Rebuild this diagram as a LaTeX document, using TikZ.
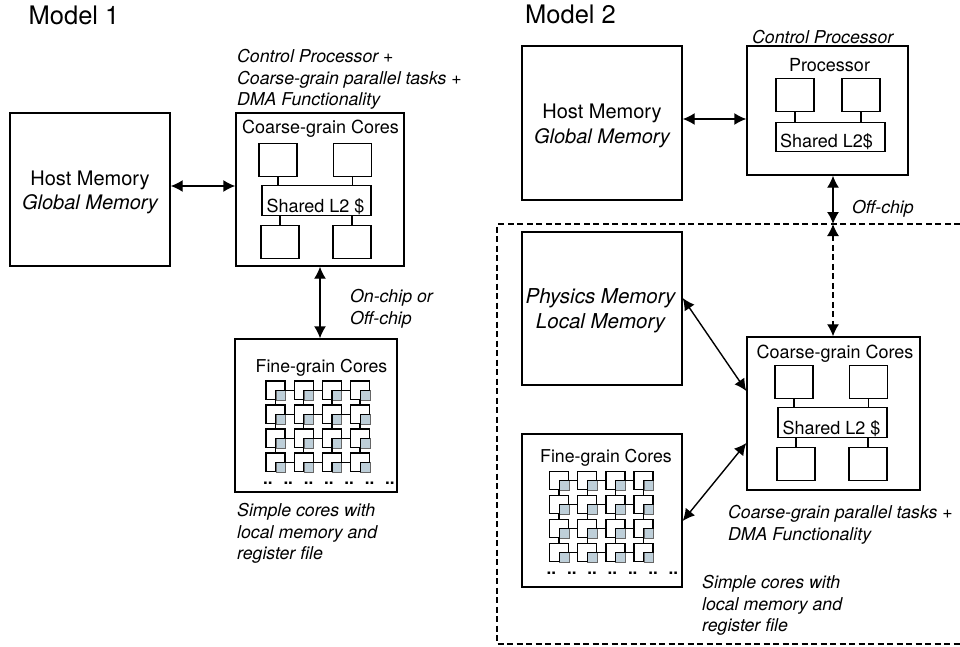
\documentclass[tikz,border=0pt]{standalone}
\usepackage{fontspec}
\setmainfont{TeX Gyre Heros}
\usetikzlibrary{arrows.meta}
\definecolor{memblue}{RGB}{190,207,217}
\tikzset{
  box/.style={draw=black,line width=1.4pt,fill=white,inner sep=0pt},
  corebox/.style={box,minimum width=38pt,minimum height=32.5pt},
  cachebox/.style={box,minimum width=109pt,minimum height=29.5pt},
  cell/.style={draw=black,line width=1.3pt,fill=white,inner sep=0pt,minimum width=19pt,minimum height=18.5pt},
  memcell/.style={draw=black!60,line width=.6pt,fill=memblue,inner sep=0pt,minimum width=9.5pt,minimum height=9.5pt,anchor=south east},
  label/.style={font=\fontsize{20}{24.5}\selectfont,align=center,inner sep=0pt},
  caption/.style={font=\fontsize{18}{20}\selectfont,inner sep=0pt,anchor=base},
  finecaption/.style={font=\fontsize{17.7}{20}\selectfont,inner sep=0pt,anchor=base},
  note/.style={font=\fontsize{17.7}{21.5}\selectfont\itshape,align=left,inner sep=0pt,anchor=north west},
  title/.style={font=\fontsize{25.5}{28}\selectfont,inner sep=0pt,anchor=base west},
  link/.style={line width=1.3pt},
  both/.style={line width=1.4pt,{Latex[length=12pt,width=12pt]}-{Latex[length=12pt,width=12pt]}},
  bound/.style={line width=1.3pt,dash pattern=on 6pt off 3.5pt},
}
\newcommand{\coarsecores}[3]{
\node[corebox] (#1a) at (#2+278,#3+160) {};
\node[corebox] (#1b) at (#2+352.5,#3+160) {};
\node[cachebox] (#1s) at (#2+316.5,#3+200.5) {};
\node[caption] (#1t) at (#2+315.5,#3+212) {Shared L2 \$};
\node[corebox] (#1c) at (#2+280,#3+242) {};
\node[corebox] (#1d) at (#2+352,#3+242) {};
\draw[link] (#1a) -- (#1a |- #1s.north);
\draw[link] (#1b) -- (#1b |- #1s.north);
\draw[link] (#1c) -- (#1c |- #1s.south);
\draw[link] (#1d) -- (#1d |- #1s.south);
}
\newcommand{\finegrid}[3]{
\foreach \r in {0,1,2,3}{
  \foreach \c in {0,1,2,3}{
    \node[cell] (#1-\r-\c) at (#2+28.2*\c,#3+24*\r) {};
    \node[memcell] (#1-m-\r-\c) at (#1-\r-\c.south east) {};
    \draw[line width=1.1pt] (#1-m-\r-\c.south west) -- (#1-m-\r-\c.north west) -- (#1-m-\r-\c.north east);
  }
}
\foreach \r in {0,1,2,3}{
  \foreach \c/\n in {0/1,1/2,2/3}{
    \draw[link] (#1-\r-\c.east) -- (#1-\r-\n.west);
  }
}
\foreach \r/\n in {0/1,1/2,2/3}{
  \foreach \c in {0,1,2,3}{
    \draw[link] (#1-\r-\c.south) -- (#1-\n-\c.north);
  }
}
\node[font=\fontsize{17}{20}\selectfont\bfseries,inner sep=0pt,anchor=base west] (#1-dots) at (#2-12.5,#3+93.7) {\spaceskip=9.3pt\relax .. .. .. .. .. .. ..};
}

\begin{document}
\begin{tikzpicture}[x=1pt,y=-1pt]
\useasboundingbox (0,0) rectangle (960,647);
\node[title] (model1) at (28.5,25) {Model 1};
\node[title] (model2) at (525,24) {Model 2};

\node[box,minimum width=160pt,minimum height=153pt] (host1) at (90,189.5) {};
\node[label] (hosttext1) at (90,192.5) {Host Memory\\\itshape Global Memory};
\node[box,minimum width=168pt,minimum height=153pt] (coarse1) at (320,189.5) {};
\node[caption] (coarsetext1) at (320.5,134) {Coarse-grain Cores};
\coarsecores{cc1}{0}{0}
\node[box,minimum width=162pt,minimum height=153pt] (fine1) at (316,415.5) {};
\node[finecaption] (finetext1) at (321.5,372) {Fine-grain Cores};
\finegrid{grid1}{275.5}{390.3}
\draw[both] ([yshift=3.5pt]host1.east) -- ([yshift=3.5pt]coarse1.west);
\draw[both] (coarse1.south) -- (coarse1.south |- fine1.north);
\node[note] (coarsenote1) at (237,49.1) {Control Processor +\\Coarse-grain parallel tasks +\\DMA Functionality};
\node[note] (linknote1) at (350,289.1) {On-chip or\\Off-chip};
\node[note] (finenote1) at (237,503.1) {Simple cores with\\local memory and\\register file};

\draw[bound] (960,224) -- (497,224) -- (497,644) -- (960,644);

\node[box,minimum width=160pt,minimum height=154pt] (host2) at (602,123) {};
\node[label] (hosttext2) at (602,126) {Host Memory\\\itshape Global Memory};
\node[box,minimum width=161pt,minimum height=129pt] (control) at (827.5,110.5) {};
\node[caption] (proctext) at (829.5,72) {Processor};
\node[corebox] (pa) at (795,95) {};
\node[corebox] (pb) at (861,95) {};
\node[cachebox] (ps) at (830.5,137) {};
\node[caption] (pstext) at (826.5,148) {Shared L2\$};
\draw[link] (pa) -- (pa |- ps.north);
\draw[link] (pb) -- (pb |- ps.north);
\node[note] (controlnote) at (752,30.1) {Control Processor};
\draw[both] ([yshift=4pt]host2.east) -- ([yshift=4pt]host2.east -| control.west);

\coordinate (offchip) at (833,224);
\node[box,minimum width=160pt,minimum height=153pt] (phys) at (602,308.5) {};
\node[label,font=\fontsize{20.5}{24.5}\selectfont\itshape] (phystext) at (600.5,311) {Physics Memory\\Local Memory};
\node[box,minimum width=173pt,minimum height=153pt] (coarse2) at (833.5,413.5) {};
\node[caption] (coarsetext2) at (835,358) {Coarse-grain Cores};
\coarsecores{cc2}{516}{222}
\node[box,minimum width=160pt,minimum height=153pt] (fine2) at (602,510.5) {};
\node[finecaption] (finetext2) at (606,462) {Fine-grain Cores};
\finegrid{grid2}{559}{480.5}
\draw[both] (control.south -| offchip) -- (offchip);
\draw[both,bound] (offchip) -- (coarse2.north -| offchip);
\draw[both] ([yshift=10.5pt]phys.east) -- ([yshift=22.5pt]coarse2.west);
\draw[both] ([yshift=-29.5pt]coarse2.west) -- ([yshift=-10.5pt]fine2.east);
\node[note] (offnote) at (852,200.1) {Off-chip};
\node[note] (coarsenote2) at (728,505.1) {Coarse-grain parallel tasks +\\DMA Functionality};
\node[note] (finenote2) at (702,575.1) {Simple cores with\\local memory and\\register file};
\end{tikzpicture}
\end{document}
